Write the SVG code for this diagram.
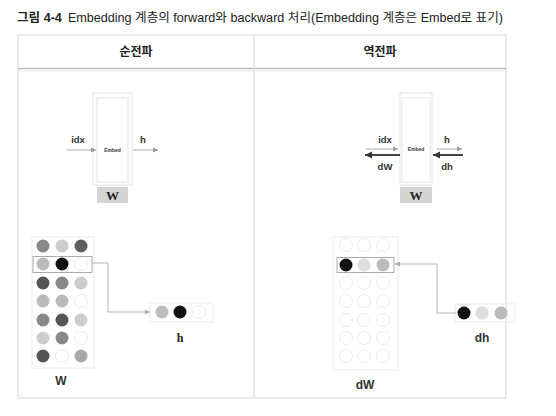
<svg xmlns="http://www.w3.org/2000/svg" width="556" height="416" viewBox="0 0 556 416">
<style>
.t{font-family:"Liberation Sans","Noto Sans CJK KR",sans-serif;fill:#222}
.lbl{font-family:"Liberation Sans",Arial,sans-serif;font-weight:bold;fill:#333}
.ser{font-family:"Liberation Serif","Times New Roman",serif;font-weight:bold;fill:#222}
.box{fill:none;stroke:#e4e4e4;stroke-width:1}
.wbox{fill:#d4d4d4}
.thin{stroke:#aaa;stroke-width:1;fill:none}
.thick{stroke:#444;stroke-width:2;fill:none}
.conn{stroke:#b5b5b5;stroke-width:1;fill:none}
.e{fill:#fff;stroke:#ececec;stroke-width:1}
.frame{fill:none;stroke:#f2f2f2;stroke-width:1.5}
</style>
<defs>
<marker id="ag" markerWidth="6" markerHeight="6" refX="5" refY="3" orient="auto" markerUnits="userSpaceOnUse"><path d="M0,0.5 L5,3 L0,5.5 Z" fill="#999"/></marker>
<marker id="ad" markerWidth="8" markerHeight="8" refX="7" refY="4" orient="auto" markerUnits="userSpaceOnUse"><path d="M0,0.5 L7,4 L0,7.5 Z" fill="#333"/></marker>
<marker id="ac" markerWidth="6" markerHeight="6" refX="5" refY="3" orient="auto" markerUnits="userSpaceOnUse"><path d="M0,0.5 L5,3 L0,5.5 Z" fill="#aaa"/></marker>
</defs>
<rect width="556" height="416" fill="#fff"/>
<g id="title">
<text class="t" x="17" y="22" font-size="12.5" textLength="486" lengthAdjust="spacingAndGlyphs"><tspan font-weight="bold">그림 4-4</tspan><tspan dx="6">Embedding 계층의 forward와 backward 처리(Embedding 계층은 Embed로 표기)</tspan></text>
</g>
<g id="table">
<rect x="18" y="35" width="488" height="363" fill="none" stroke="#dcdcdc" stroke-width="1.2"/>
<line x1="18" y1="68.5" x2="506" y2="68.5" stroke="#bdbdbd" stroke-width="1.5"/>
<line x1="18" y1="71" x2="506" y2="71" stroke="#e8e8e8" stroke-width="1"/>
<line x1="254" y1="35" x2="254" y2="398" stroke="#dcdcdc" stroke-width="1.2"/>
<text class="t" x="136" y="56" font-size="12" font-weight="bold" text-anchor="middle">순전파</text>
<text class="t" x="380" y="56" font-size="12" font-weight="bold" text-anchor="middle">역전파</text>
</g>
<g id="fwd-embed">
<rect class="box" x="93" y="93" width="39" height="92"/>
<rect class="box" x="97" y="98" width="31" height="84" stroke="#f2f2f2"/>
<text class="lbl" x="112.5" y="152" font-size="5" font-weight="normal" text-anchor="middle" fill="#777">Embed</text>
<rect class="wbox" x="97" y="187" width="31" height="16"/>
<text class="ser" x="112.5" y="200" font-size="13" text-anchor="middle" fill="#333">W</text>
</g>
<g id="bwd-embed">
<rect class="box" x="400" y="93" width="32" height="92"/>
<rect class="box" x="402" y="98" width="28" height="84" stroke="#f2f2f2"/>
<text class="lbl" x="416" y="151" font-size="5" font-weight="normal" text-anchor="middle" fill="#777">Embed</text>
<rect class="wbox" x="400" y="187" width="32" height="16"/>
<text class="ser" x="416" y="200" font-size="13" text-anchor="middle" fill="#333">W</text>
</g>
<g id="labels">
<text class="lbl" x="78" y="143" font-size="9.5" text-anchor="middle">idx</text>
<text class="lbl" x="143" y="143" font-size="9.5" text-anchor="middle">h</text>
<text class="lbl" x="385" y="143" font-size="9.5" text-anchor="middle">idx</text>
<text class="lbl" x="385" y="170" font-size="9.5" text-anchor="middle">dW</text>
<text class="lbl" x="447" y="143" font-size="9.5" text-anchor="middle">h</text>
<text class="lbl" x="447" y="170" font-size="9.5" text-anchor="middle">dh</text>
</g>
<g id="W-matrix">
<rect class="frame" x="32" y="237" width="62" height="131"/>
<circle cx="43" cy="246" r="6.5" fill="#888"/><circle cx="62" cy="246" r="6.5" fill="#cdcdcd"/><circle cx="81" cy="246" r="6.5" fill="#5e5e5e"/>
<circle cx="43" cy="264" r="6.5" fill="#bbb"/><circle cx="62" cy="264" r="6.5" fill="#111"/><circle cx="81" cy="264" r="6.5" class="e"/>
<circle cx="43" cy="283" r="6.5" fill="#555"/><circle cx="62" cy="283" r="6.5" fill="#888"/><circle cx="81" cy="283" r="6.5" fill="#cdcdcd"/>
<circle cx="43" cy="301" r="6.5" fill="#bbb"/><circle cx="62" cy="301" r="6.5" fill="#bbb"/><circle cx="81" cy="301" r="6.5" class="e"/>
<circle cx="43" cy="320" r="6.5" fill="#888"/><circle cx="62" cy="320" r="6.5" fill="#555"/><circle cx="81" cy="320" r="6.5" fill="#cdcdcd"/>
<circle cx="43" cy="338" r="6.5" fill="#cdcdcd"/><circle cx="62" cy="338" r="6.5" fill="#888"/><circle cx="81" cy="338" r="6.5" class="e"/>
<circle cx="43" cy="356" r="6.5" fill="#555"/><circle cx="62" cy="356" r="6.5" class="e"/><circle cx="81" cy="356" r="6.5" fill="#a8a8a8"/>
<rect x="33" y="256.5" width="59" height="16" fill="none" stroke="#aaa" stroke-width="1"/>
<text class="lbl" x="61" y="385" font-size="12" text-anchor="middle">W</text>
</g>
<g id="h-vector">
<rect class="frame" x="150" y="303" width="63" height="19"/>
<circle cx="162" cy="312" r="6.5" fill="#bbb"/><circle cx="180" cy="312" r="6.5" fill="#111"/><circle cx="199" cy="312" r="6.5" class="e"/>
<text class="ser" x="180" y="342" font-size="12" text-anchor="middle">h</text>
</g>
<g id="dW-matrix">
<rect class="frame" x="333" y="237" width="65" height="133"/>
<circle cx="346" cy="245" r="6.5" class="e"/><circle cx="364" cy="245" r="6.5" class="e"/><circle cx="383" cy="245" r="6.5" class="e"/>
<circle cx="346" cy="265" r="6.5" fill="#111"/><circle cx="364" cy="265" r="6.5" fill="#ddd" stroke="#eee"/><circle cx="383" cy="265" r="6.5" fill="#bbb"/>
<circle cx="346" cy="283" r="6.5" class="e"/><circle cx="364" cy="283" r="6.5" class="e"/><circle cx="383" cy="283" r="6.5" class="e"/>
<circle cx="346" cy="301" r="6.5" class="e"/><circle cx="364" cy="301" r="6.5" class="e"/><circle cx="383" cy="301" r="6.5" class="e"/>
<circle cx="346" cy="320" r="6.5" class="e"/><circle cx="364" cy="320" r="6.5" class="e"/><circle cx="383" cy="320" r="6.5" class="e"/>
<circle cx="346" cy="338" r="6.5" class="e"/><circle cx="364" cy="338" r="6.5" class="e"/><circle cx="383" cy="338" r="6.5" class="e"/>
<circle cx="346" cy="356" r="6.5" class="e"/><circle cx="364" cy="356" r="6.5" class="e"/><circle cx="383" cy="356" r="6.5" class="e"/>
<rect x="337" y="257.5" width="57" height="15" fill="none" stroke="#aaa" stroke-width="1"/>
<text class="lbl" x="365" y="389" font-size="12" text-anchor="middle">dW</text>
</g>
<g id="dh-vector">
<rect class="frame" x="455" y="304" width="60" height="18"/>
<circle cx="464" cy="313" r="6.5" fill="#111"/><circle cx="482" cy="313" r="6.5" fill="#ddd" stroke="#eee"/><circle cx="501" cy="313" r="6.5" fill="#bbb"/>
<text class="lbl" x="482" y="342" font-size="12" text-anchor="middle">dh</text>
</g>
<g id="connectors">
<line class="thin" x1="67" y1="150" x2="96" y2="150" marker-end="url(#ag)"/>
<line class="thin" x1="133" y1="150" x2="158" y2="150" marker-end="url(#ag)"/>
<line class="thin" x1="366" y1="149" x2="398" y2="149" marker-end="url(#ag)"/>
<line class="thick" x1="400" y1="155" x2="365" y2="155" marker-end="url(#ad)"/>
<line class="thin" x1="437" y1="149" x2="462" y2="149" marker-end="url(#ag)"/>
<line class="thick" x1="463" y1="155" x2="433" y2="155" marker-end="url(#ad)"/>
<polyline class="conn" points="92,263 108,263 108,312 150,312" marker-end="url(#ac)"/>
<polyline class="conn" points="456,313 437,313 437,264 395,264" marker-end="url(#ac)"/>
</g>
</svg>
